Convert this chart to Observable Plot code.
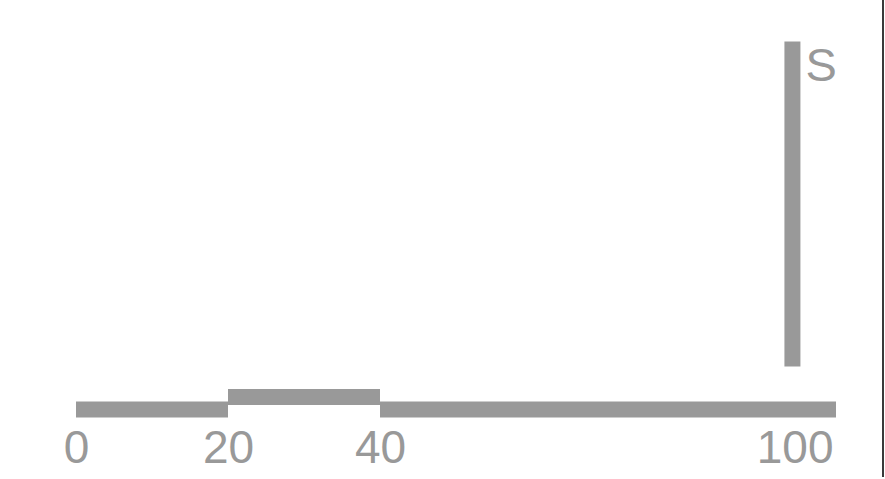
<!DOCTYPE html>
<html>
<head>
<meta charset="utf-8">
<script src="https://cdn.jsdelivr.net/npm/d3@7"></script>
<script src="https://cdn.jsdelivr.net/npm/@observablehq/plot@0.6"></script>
<style>
  html, body { margin: 0; padding: 0; background: #fff; }
  #wrap { position: relative; width: 885px; height: 479px; overflow: hidden; }
  #edge { position: absolute; left: 882px; top: 0; width: 2px; height: 477px; background: #3a3a3a; }
  svg { display: block; }
</style>
</head>
<body>
<div id="wrap"><div id="edge"></div></div>
<script>
// Step segments along the baseline
const segStart = [0, 20, 40];
const segEnd = [20, 40, 100];
const segLevel = [0, 1, 0];
// Vertical bar
const barX = [94.2];
const barLow = [3.4];
const barHigh = [29.4];
const barLabel = ["S"];
// Tick labels
const tickValues = [0, 20, 40];
const lastTick = [100];

const segments = segStart.map((s, i) => ({x1: s, x2: segEnd[i], y: segLevel[i]}));
const bars = barX.map((x, i) => ({x, y1: barLow[i], y2: barHigh[i], label: barLabel[i]}));

const grey = "#999999";
const font = "Liberation Sans, Arial, Helvetica, sans-serif";

const chart = Plot.plot({
  width: 885,
  height: 479,
  marginLeft: 76,
  marginRight: 49,
  marginTop: 34,
  marginBottom: 70,
  x: {domain: [0, 100], axis: null},
  y: {domain: [0, 30], axis: null},
  style: {fontFamily: font, background: "transparent"},
  marks: [
    Plot.ruleY(segments, {x1: "x1", x2: "x2", y: "y", stroke: grey, strokeWidth: 16}),
    Plot.ruleX(bars, {x: "x", y1: "y1", y2: "y2", stroke: grey, strokeWidth: 16}),
    Plot.text(bars, {x: "x", y: "y2", text: "label", textAnchor: "start", lineAnchor: "top",
      dx: 13, dy: 6, fontSize: 47, fill: grey}),
    Plot.text(tickValues, {x: d => d, text: d => String(d), frameAnchor: "bottom", lineAnchor: "top",
      dy: 21, fontSize: 46, fill: grey}),
    Plot.text(lastTick, {x: d => d, text: d => String(d), frameAnchor: "bottom", lineAnchor: "top",
      textAnchor: "end", dx: -3, dy: 21, fontSize: 46, fill: grey})
  ]
});
document.getElementById("wrap").prepend(chart);
</script>
</body>
</html>
